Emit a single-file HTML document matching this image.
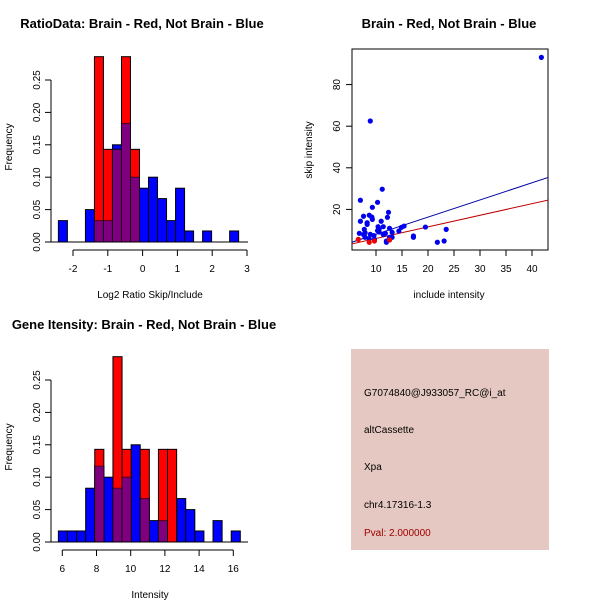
<!DOCTYPE html>
<html><head><meta charset="utf-8"><style>
body{margin:0;background:#fff}
svg{display:block;font-family:"Liberation Sans",sans-serif}
</style></head><body>
<svg id="s" width="600" height="600" viewBox="0 0 600 600">
<rect width="600" height="600" fill="#fff"/>
<text x="142" y="28" font-size="13" font-weight="bold" text-anchor="middle">RatioData: Brain - Red, Not Brain - Blue</text>
<text x="449" y="28" font-size="13" font-weight="bold" text-anchor="middle">Brain - Red, Not Brain - Blue</text>
<text x="144" y="329" font-size="13" font-weight="bold" text-anchor="middle">Gene Itensity: Brain - Red, Not Brain - Blue</text>
<text x="150" y="298" font-size="10" text-anchor="middle">Log2 Ratio Skip/Include</text>
<text x="150" y="598" font-size="10" text-anchor="middle">Intensity</text>
<text x="449" y="298" font-size="10" text-anchor="middle">include intensity</text>
<text transform="translate(12,147) rotate(-90)" font-size="10" text-anchor="middle">Frequency</text>
<text transform="translate(12,447) rotate(-90)" font-size="10" text-anchor="middle">Frequency</text>
<text transform="translate(312,150) rotate(-90)" font-size="10" text-anchor="middle">skip intensity</text>
<g id="h1"></g>
<g id="h2"></g>
<g id="sc"></g>
<g>
<rect x="351" y="349" width="198" height="201" fill="#e5c8c1"/>
<g font-size="10" fill="#000">
<text x="364" y="396">G7074840@J933057_RC@i_at</text>
<text x="364" y="433">altCassette</text>
<text x="364" y="470">Xpa</text>
<text x="364" y="508">chr4.17316-1.3</text>
<text x="364" y="536" fill="#a00000">Pval: 2.000000</text>
</g></g>
</svg>
<script>
const NS="http://www.w3.org/2000/svg";
// Ratio histogram data
const ratioBinStart=-2.42, ratioBinWidth=0.259;
const ratioBlue=[0.033,0,0,0.05,0.033,0.033,0.15,0.183,0.1,0.083,0.1,0.067,0.033,0.083,0.017,0,0.017,0,0,0.017];
const ratioRed=[0,0,0,0,0.286,0.143,0.143,0.286,0.143,0,0,0,0,0,0,0,0,0,0,0];
const ratioXTicks=[-2,-1,0,1,2,3];
const freqTicks=[0,0.05,0.10,0.15,0.20,0.25];
const freqTickLabels=["0.00","0.05","0.10","0.15","0.20","0.25"];
// Intensity histogram data
const intBinStart=5.77, intBinWidth=0.532;
const intBlue=[0.017,0.017,0.017,0.083,0.117,0.1,0.083,0.1,0.15,0.067,0.033,0.033,0,0.067,0.05,0.017,0,0.033,0,0.017];
const intRed=[0,0,0,0,0.143,0,0.286,0.143,0,0.143,0,0.143,0.143,0,0,0,0,0,0,0];
const intXTicks=[6,8,10,12,14,16];
// Scatter data
const blueX=[41.8,8.9,11.2,7.0,10.3,9.3,12.4,7.6,8.7,9.2,12.2,7.0,11.0,8.3,8.3,9.3,10.4,11.4,12.6,7.75,14.9,15.4,14.4,23.5,6.8,7.9,8.9,9.6,10.6,11.8,13.1,13.1,17.2,17.2,7.9,8.7,9.7,12.0,12.0,21.8,23.1,7.6,10.6,10.3,11.4,12.6,19.5];
const blueY=[93.1,62.5,29.7,24.4,23.4,21.0,18.6,16.7,17.2,16.3,16.2,14.3,14.3,13.6,12.8,15.2,11.7,11.7,10.9,10.4,11.4,12.0,9.6,10.4,8.5,8.8,8.0,7.4,9.1,8.5,9.0,6.6,7.2,6.6,6.6,5.8,5.6,4.8,4.2,4.2,4.8,7.9,10.4,9.8,7.9,6.6,11.5];
const redX=[6.6,8.7,9.7,12.6];
const redY=[5.6,4.2,4.8,5.3];
const blueFit=[-0.2,0.825];
const redFit=[0.43,0.558];
const scXTicks=[10,15,20,25,30,35,40];
const scYTicks=[20,40,60,80];

function el(p,t,a){const e=document.createElementNS(NS,t);for(const k in a)e.setAttribute(k,a[k]);p.appendChild(e);return e;}

function hist(g,name,bs,bw,blue,red,xt,x0px,xScale,y0px){
  const X=v=>x0px+(v-xt[0])*xScale, Y=f=>y0px-f*648;
  for(let i=0;i<blue.length;i++){
    const a=X(bs+i*bw), b=X(bs+(i+1)*bw);
    if(blue[i]>0){const r=el(g,'rect',{x:a,y:Y(blue[i]),width:b-a,height:blue[i]*648,fill:'#0000ff',stroke:'#000','stroke-width':1});
      
      }
  }
  for(let i=0;i<red.length;i++){
    const a=X(bs+i*bw), b=X(bs+(i+1)*bw);
    if(red[i]>0){const r=el(g,'rect',{x:a,y:Y(red[i]),width:b-a,height:red[i]*648,fill:'#ff0000',stroke:'#000','stroke-width':1});
      
      
      const m=Math.min(red[i],blue[i]);
      if(m>0){const p=el(g,'rect',{x:a,y:Y(m),width:b-a,height:m*648,fill:'#7f007f',stroke:'#000','stroke-width':1,'stroke-opacity':0.6});
        
        }
    }
  }
  const ya=el(g,'g',{});
  
  
  el(ya,'line',{x1:51,x2:51,y1:Y(0),y2:Y(0.25),stroke:'#000'});
  freqTicks.forEach((f,i)=>{el(ya,'line',{x1:45,x2:51,y1:Y(f),y2:Y(f),stroke:'#000'});
    const t=el(ya,'text',{transform:`translate(40,${Y(f)}) rotate(-90)`,'font-size':10,'text-anchor':'middle'});t.textContent=freqTickLabels[i];});
  const xa=el(g,'g',{});
  
  
  el(xa,'line',{x1:X(xt[0]),x2:X(xt[xt.length-1]),y1:y0px+8,y2:y0px+8,stroke:'#000'});
  xt.forEach(v=>{el(xa,'line',{x1:X(v),x2:X(v),y1:y0px+8,y2:y0px+14,stroke:'#000'});
    const t=el(xa,'text',{x:X(v),y:y0px+30,'font-size':10,'text-anchor':'middle'});t.textContent=v;});
  el(g,'line',{x1:51,x2:248,y1:y0px,y2:y0px,stroke:'#000'});
}
hist(document.getElementById('h1'),'ratio',ratioBinStart,ratioBinWidth,ratioBlue,ratioRed,ratioXTicks,73,34.8,242);
hist(document.getElementById('h2'),'intensity',intBinStart,intBinWidth,intBlue,intRed,intXTicks,62.3,17.1,542);

const sc=document.getElementById('sc');
const sx=v=>376+(v-10)*5.2, sy=v=>251-v*2.08;
const clip=el(sc,'clipPath',{id:'cp'});el(clip,'rect',{x:352,y:49,width:196,height:201});
el(sc,'rect',{x:352,y:49,width:196,height:201,fill:'none',stroke:'#000'});
const lg=el(sc,'g',{'clip-path':'url(#cp)'});
[[blueFit,'#0000a0','blue-fit-line'],[redFit,'#c00000','red-fit-line']].forEach(([f,c,n])=>{
  const l=el(lg,'line',{x1:sx(5.33),y1:sy(f[0]+f[1]*5.33),x2:sx(43.1),y2:sy(f[0]+f[1]*43.1),stroke:c,'stroke-width':1});
  
  
});
blueX.forEach((x,i)=>{const c=el(sc,'circle',{cx:sx(x),cy:sy(blueY[i]),r:2.6,fill:'#0000ee'});
  
  });
redX.forEach((x,i)=>{const c=el(sc,'circle',{cx:sx(x),cy:sy(redY[i]),r:2.6,fill:'#ee0000'});
  
  });
const sxa=el(sc,'g',{});


scXTicks.forEach(v=>{el(sxa,'line',{x1:sx(v),x2:sx(v),y1:250,y2:256,stroke:'#000'});
  const t=el(sxa,'text',{x:sx(v),y:272,'font-size':10,'text-anchor':'middle'});t.textContent=v;});
const sya=el(sc,'g',{});


scYTicks.forEach(v=>{el(sya,'line',{x1:346,x2:352,y1:sy(v),y2:sy(v),stroke:'#000'});
  const t=el(sya,'text',{transform:`translate(340,${sy(v)}) rotate(-90)`,'font-size':10,'text-anchor':'middle'});t.textContent=v;});
</script>
</body></html>
